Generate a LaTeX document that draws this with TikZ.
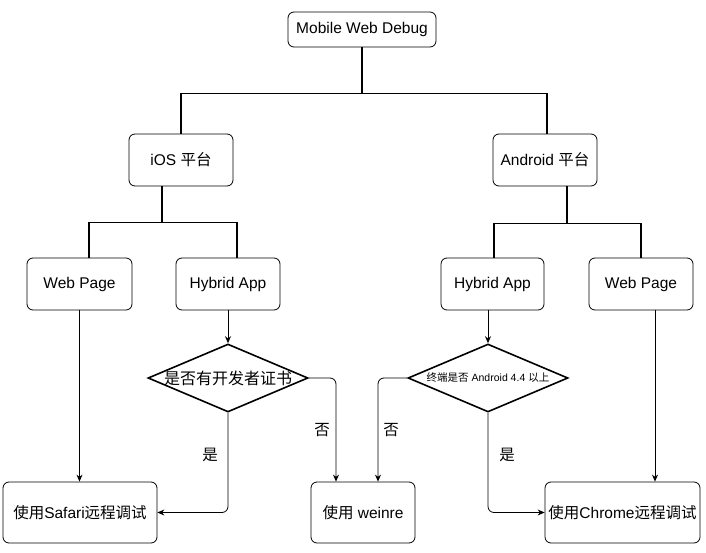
\documentclass[tikz,border=0pt]{standalone}
\usepackage{fontspec}
\setmainfont{Liberation Sans}
\newfontfamily\cjk{Noto Sans CJK SC}
\usetikzlibrary{shapes.geometric,arrows.meta,calc}
\begin{document}
\begin{tikzpicture}[x=1pt,y=-1pt,
  box/.style={draw, rounded corners=6pt, line width=0.8pt, inner sep=0pt,
    font=\fontsize{15.5}{18}\selectfont},
  dia/.style={draw, diamond, line width=1.6pt, inner sep=0pt,
    minimum width=160pt, minimum height=68pt},
  tree/.style={line width=1.6pt},
  arr/.style={line width=0.8pt, -{Stealth[length=7pt,width=6pt]}, rounded corners=6pt},
  lab/.style={font=\cjk\fontsize{15.5}{18}\selectfont, inner sep=0pt}]
\useasboundingbox (0,0) rectangle (706,553);
\node[box, minimum width=148pt, minimum height=35pt] (top) at (362,29.5) {Mobile Web Debug};
\node[box, minimum width=104pt, minimum height=52pt] (ios) at (181,160) {iOS {\cjk 平台}};
\node[box, minimum width=104pt, minimum height=52pt] (android) at (545,160) {Android {\cjk 平台}};
\node[box, minimum width=105pt, minimum height=52pt] (webL) at (79.5,284) {Web Page};
\node[box, minimum width=104pt, minimum height=52pt] (hybL) at (228,284) {Hybrid App};
\node[box, minimum width=103pt, minimum height=52pt] (hybR) at (492.5,284) {Hybrid App};
\node[box, minimum width=104pt, minimum height=52pt] (webR) at (641,284) {Web Page};
\node[dia] (dL) at (228,378) {\makebox[0pt]{\cjk\fontsize{16}{18}\selectfont 是否有开发者证书}};
\node[dia] (dR) at (488,378) {\makebox[0pt]{\fontsize{10.5}{12}\selectfont{\cjk 终端是否} Android 4.4 {\cjk 以上}}};
\node[box, minimum width=154pt, minimum height=61pt] (safari) at (80,512.5) {{\cjk 使用}Safari{\cjk 远程调试}};
\node[box, minimum width=104pt, minimum height=61pt] (weinre) at (363,512.5) {{\cjk 使用} weinre};
\node[box, minimum width=155pt, minimum height=61pt] (chrome) at (622.5,512.5) {{\cjk 使用}Chrome{\cjk 远程调试}};
% tree connectors
\draw[tree] (top.south) -- ++(0,46) coordinate (jT);
\draw[tree] (jT) -| (ios.north);
\draw[tree] (jT) -| ([xshift=2pt]android.north);
\draw[tree] ([xshift=-19pt]ios.south) -- ++(0,36) coordinate (jL);
\draw[tree] (jL) -| ([xshift=9.5pt]webL.north);
\draw[tree] (jL) -| ([xshift=9pt]hybL.north);
\draw[tree] ([xshift=22pt]android.south) -- ++(0,37) coordinate (jR);
\draw[tree] (jR) -| ([xshift=1.5pt]hybR.north);
\draw[tree] (jR) -| (webR.north);
% arrows
\draw[arr] (webL.south) -- (webL.south |- safari.north);
\draw[arr] (hybL.south) -- (dL.north);
\draw[arr] (dR.north |- hybR.south) -- (dR.north);
\draw[arr] (dL.south) |- (safari.east);
\draw[arr] (dL.east) -| ([xshift=-27pt]weinre.north);
\draw[arr] (dR.west) -| ([xshift=15pt]weinre.north);
\draw[arr] (dR.south) |- (chrome.west);
\draw[arr] ([xshift=14pt]webR.south) -- ([xshift=14pt]webR.south |- chrome.north);
% labels
\node[lab] (l1) at (210,455) {是};
\node[lab] (l2) at (322,430) {否};
\node[lab] (l3) at (391,430) {否};
\node[lab] (l4) at (507,455) {是};
\end{tikzpicture}
\end{document}
